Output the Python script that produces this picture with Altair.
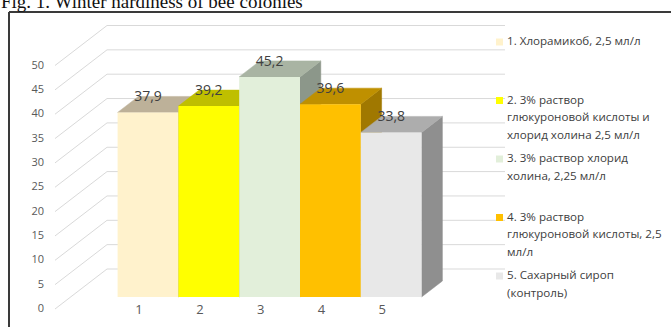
import altair as alt
import pandas as pd

# ---------------- data ----------------
categories = ["1", "2", "3", "4", "5"]
values = [37.9, 39.2, 45.2, 39.6, 33.8]
value_labels = ["37,9", "39,2", "45,2", "39,6", "33,8"]
y_ticks = [0, 5, 10, 15, 20, 25, 30, 35, 40, 45, 50]
legend_names = [
    ["1. Хлорамикоб, 2,5 мл/л"],
    ["2. 3% раствор", "глюкуроновой кислоты и", "хлорид холина 2,5 мл/л"],
    ["3. 3% раствор хлорид", "холина, 2,25 мл/л"],
    ["4. 3% раствор", "глюкуроновой кислоты,  2,5", "мл/л"],
    ["5. Сахарный сироп", "(контроль)"],
]
title_text = "Fig. 1. Winter hardiness of bee colonies"

front_colors = ["#FFF2CC", "#FFFF00", "#E2EFDA", "#FFC000", "#E8E8E8"]
top_colors = ["#BDB199", "#BFBF00", "#A9B4A3", "#BF9000", "#ADADAD"]
side_colors = ["#9C927E", "#9C9C00", "#8C978A", "#A07800", "#8F8F8F"]

# ---------------- layout (pixels -> data units) ----------------
W, H = 671, 327
PX_X, X0 = 60.8, 71.6      # px per category unit, px of unit 0
PX_Y, Y0 = 4.87, 309.0     # px per value unit, px of value 0 on front plane
x_dom = [-X0 / PX_X, (W - X0) / PX_X]
y_dom = [(Y0 - H) / PX_Y, Y0 / PX_Y]
WALL_DX = 52 / PX_X
WALL_DY = 40 / PX_Y
WALL_LEFT = (55 - X0) / PX_X
WALL_RIGHT = (505 - X0) / PX_X
D0, D1 = 0.3, 0.7           # bar depth range (fraction of floor depth)

FONT = "Open Sans"
TXT = "#404040"


def X(f):
    return alt.X(f, type="quantitative", scale=alt.Scale(domain=x_dom, nice=False, zero=False), axis=None)


def Y(f):
    return alt.Y(f, type="quantitative", scale=alt.Scale(domain=y_dom, nice=False, zero=False), axis=None)


layers = []

# wall gridlines
grid_rows = []
for t in y_ticks:
    grid_rows.append({"t": t, "o": 0, "x": WALL_LEFT, "y": t})
    grid_rows.append({"t": t, "o": 1, "x": WALL_LEFT + WALL_DX, "y": t + WALL_DY})
    grid_rows.append({"t": t, "o": 2, "x": WALL_RIGHT, "y": t + WALL_DY})
grid = alt.Chart(pd.DataFrame(grid_rows)).mark_line(color="#D9D9D9", strokeWidth=1).encode(
    x=X("x"), y=Y("y"), detail="t:N", order="o:Q"
)
layers.append(grid)

# y axis labels
ylab = alt.Chart(pd.DataFrame({"t": y_ticks, "x": [(44 - X0) / PX_X] * len(y_ticks)})).mark_text(
    align="right", baseline="middle", font=FONT, fontSize=11, color="#595959"
).encode(x=X("x"), y=Y("t"), text="t:Q")
layers.append(ylab)

# 3D bars
ddx = (D1 - D0) * WALL_DX
ddy = (D1 - D0) * WALL_DY
for i, v in enumerate(values):
    c = i + 1
    xl = c - 0.5 + D0 * WALL_DX
    xr = c + 0.5 + D0 * WALL_DX
    b0 = D0 * WALL_DY
    b1 = D1 * WALL_DY
    side = pd.DataFrame({"x": [xr, xr + ddx], "y": [b0, b1], "y2": [v + b0, v + b1]})
    top = pd.DataFrame({
        "x": [xl, xl + ddx, xr, xr + ddx],
        "y": [v + b0, v + b0, v + b0, v + b1],
        "y2": [v + b0, v + b1, v + b1, v + b1],
    })
    front = pd.DataFrame({"x": [xl], "x2": [xr], "y": [b0], "y2": [v + b0]})
    layers.append(alt.Chart(side).mark_area(orient="vertical", color=side_colors[i], stroke=side_colors[i],
                                            strokeWidth=0.5).encode(x=X("x"), y=Y("y"), y2="y2"))
    layers.append(alt.Chart(top).mark_area(orient="vertical", color=top_colors[i], stroke=top_colors[i],
                                           strokeWidth=0.5).encode(x=X("x"), y=Y("y"), y2="y2"))
    layers.append(alt.Chart(front).mark_rect(color=front_colors[i]).encode(
        x=X("x"), x2="x2", y=Y("y"), y2="y2"))

# value labels
vl = pd.DataFrame({
    "x": [k + 1 + D0 * WALL_DX for k in range(len(values))],
    "y": [v + D1 * WALL_DY for v in values],
    "lab": value_labels,
})
layers.append(alt.Chart(vl).mark_text(font=FONT, fontSize=14, color=TXT, baseline="middle", dy=1).encode(
    x=X("x"), y=Y("y"), text="lab:N"))

# category labels
cl = pd.DataFrame({"x": [k + 1 + 0.11 for k in range(len(categories))], "y": [-0.25] * len(categories), "cat": categories})
layers.append(alt.Chart(cl).mark_text(font=FONT, fontSize=13, color="#595959", baseline="middle").encode(
    x=X("x"), y=Y("y"), text="cat:N"))

# legend (manual)
LEG_Y0, LEG_STEP, LINE_H = 42, 58.5, 17.5
leg_lines, leg_marks = [], []
for k, lines in enumerate(legend_names):
    y0 = LEG_Y0 + k * LEG_STEP
    leg_marks.append({"py": y0, "col": front_colors[k]})
    for j, line in enumerate(lines):
        leg_lines.append({"py": y0 + j * LINE_H, "txt": line})
layers.append(alt.Chart(pd.DataFrame(leg_marks)).mark_square(size=49, opacity=1).encode(
    x=alt.value(499.5), y=alt.Y("py:Q", scale=None), color=alt.Color("col:N", scale=None)))
layers.append(alt.Chart(pd.DataFrame(leg_lines)).mark_text(
    align="left", baseline="middle", font=FONT, fontSize=11.6, color=TXT).encode(
    x=alt.value(507), y=alt.Y("py:Q", scale=None), text="txt:N"))

# frame
layers.append(alt.Chart(pd.DataFrame({"a": [0]})).mark_rule(color="#3a3a3a", strokeWidth=2).encode(
    x=alt.value(9), y=alt.value(12), y2=alt.value(H)))
layers.append(alt.Chart(pd.DataFrame({"a": [0]})).mark_rule(color="#3a3a3a", strokeWidth=2).encode(
    x=alt.value(9), x2=alt.value(W), y=alt.value(12)))

# title (cropped at top like the source)
layers.append(alt.Chart(pd.DataFrame({"t": [title_text]})).mark_text(
    align="left", baseline="alphabetic", font="Liberation Serif", fontSize=19, color="#111111").encode(
    x=alt.value(1), y=alt.value(8), text="t:N"))

chart = alt.layer(*layers).properties(
    width=W, height=H, autosize=alt.AutoSizeParams(type="none"), padding=0
).configure_view(stroke=None)

chart.save("out.html", embed_options={"renderer": "svg", "actions": False})
